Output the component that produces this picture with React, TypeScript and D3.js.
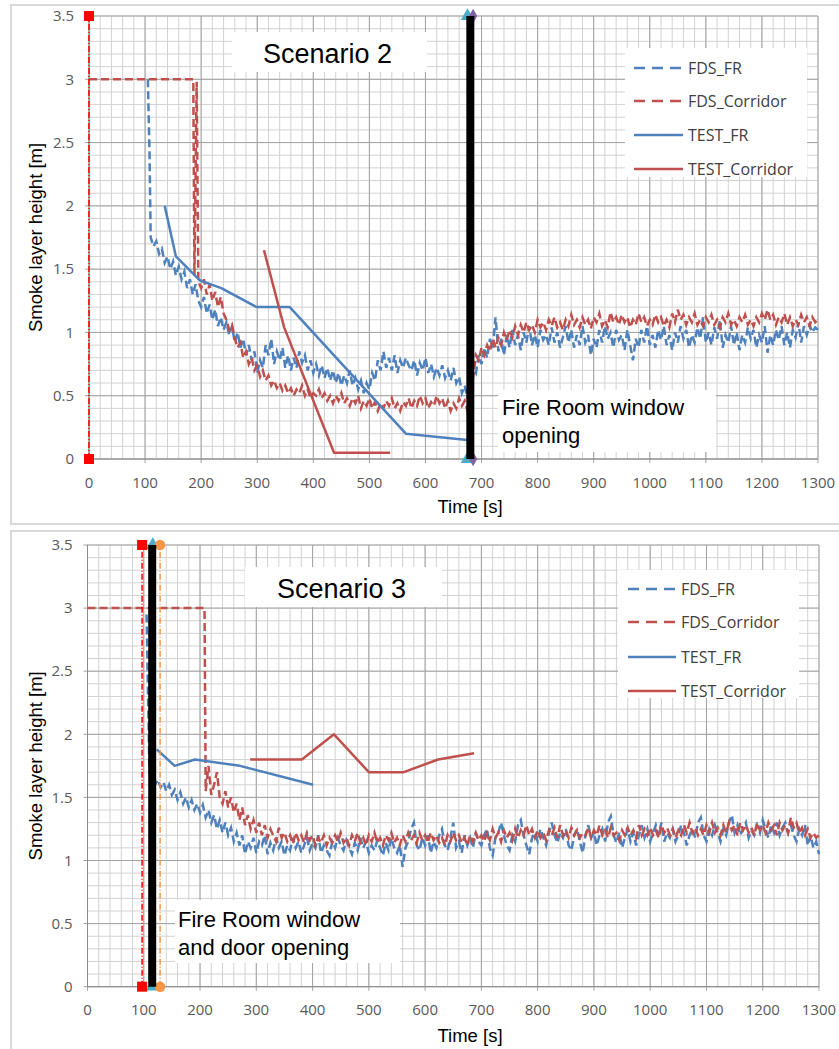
import React from 'react';
import * as d3 from 'd3';

type Pt = [number, number];

const xTickValues = [0, 100, 200, 300, 400, 500, 600, 700, 800, 900, 1000, 1100, 1200, 1300];
const yTickValues = [0, 0.5, 1, 1.5, 2, 2.5, 3, 3.5];
const seriesNames = ['FDS_FR', 'FDS_Corridor', 'TEST_FR', 'TEST_Corridor'];

// FDS output is sampled every 5 s after the initial drop
const FDS_STEP = 5;

// Scenario 2
const s2FdsFrHead: Pt[] = [[105, 3.0], [108, 2.4]];
const s2FdsFrStart = 110;
const s2FdsFrValues = [
  1.75, 1.68, 1.72, 1.62, 1.66, 1.55, 1.6, 1.5, 1.56, 1.45, 1.52, 1.42, 1.48, 1.35, 1.42, 1.3, 1.38, 1.25,
  1.2, 1.28, 1.15, 1.22, 1.1, 1.18, 1.05, 1.12, 1.02, 1.08, 0.98, 1.05, 0.92, 1.0, 0.88, 0.95, 0.82, 0.9,
  0.78, 0.85, 0.68, 0.78, 0.72, 0.9, 0.82, 0.95, 0.75, 0.85, 0.78, 0.88, 0.72, 0.82, 0.7, 0.8, 0.72, 0.85,
  0.76, 0.82, 0.7, 0.78, 0.68, 0.75, 0.66, 0.74, 0.64, 0.72, 0.62, 0.7, 0.6, 0.68, 0.58, 0.66, 0.6, 0.7,
  0.58, 0.64, 0.55, 0.62, 0.52, 0.6, 0.55, 0.68, 0.62, 0.78, 0.7, 0.85, 0.72, 0.8, 0.7, 0.82, 0.68, 0.78,
  0.72, 0.8, 0.74, 0.7, 0.78, 0.66, 0.76, 0.7, 0.8, 0.68, 0.75, 0.65, 0.72, 0.66, 0.74, 0.64, 0.7, 0.62,
  0.72, 0.6, 0.65, 0.52, 0.58, 0.48, 0.62, 0.72, 0.68, 0.82, 0.75, 0.88, 0.8, 0.95, 0.88, 1.12, 0.85, 0.95,
  0.82, 0.98, 0.88, 1.02, 0.9, 0.98, 0.86, 1.0, 0.92, 1.05, 0.9, 0.98, 0.88, 1.02, 0.94, 0.98, 0.9, 1.04,
  0.92, 1.0, 0.88, 0.96, 1.05, 0.92, 1.02, 0.88, 0.98, 0.9, 1.05, 0.92, 0.98, 0.82, 0.95, 0.88, 1.02, 0.92,
  1.05, 0.95, 1.0, 0.88, 1.02, 0.94, 0.98, 0.86, 1.02, 0.9, 0.78, 0.95, 0.88, 1.02, 0.92, 1.05, 0.9, 0.98,
  0.88, 1.02, 0.94, 1.05, 0.9, 0.98, 0.86, 1.0, 0.92, 1.05, 0.95, 1.02, 0.88, 0.98, 0.92, 1.04, 0.95, 1.12,
  0.92, 1.0, 0.9, 1.04, 0.95, 1.1, 0.88, 0.98, 0.92, 1.05, 0.9, 1.0, 0.86, 0.98, 0.92, 1.04, 0.95, 1.02,
  0.88, 0.98, 0.92, 1.05, 0.84, 0.98, 0.9, 1.02, 0.94, 1.05, 0.9, 1.0, 0.88, 1.02, 0.96, 1.08, 0.92, 1.05,
  0.98, 1.06, 1.0, 1.04, 1.02,
];
const s2FdsCorridorHead: Pt[] = [[0, 3.0], [186, 3.0], [188, 1.45], [192, 2.98], [195, 1.4]];
const s2FdsCorridorStart = 200;
const s2FdsCorridorValues = [
  1.35, 1.42, 1.3, 1.38, 1.25, 1.32, 1.2, 1.28, 1.15, 1.1, 1.02, 1.06, 0.95, 0.88, 0.92, 0.8, 0.85, 0.75,
  0.8, 0.7, 0.74, 0.65, 0.7, 0.62, 0.66, 0.58, 0.62, 0.56, 0.6, 0.54, 0.58, 0.52, 0.56, 0.5, 0.55, 0.52,
  0.58, 0.5, 0.55, 0.48, 0.52, 0.5, 0.55, 0.48, 0.52, 0.46, 0.5, 0.44, 0.5, 0.46, 0.52, 0.44, 0.48, 0.42,
  0.48, 0.44, 0.5, 0.4, 0.46, 0.42, 0.48, 0.4, 0.45, 0.38, 0.44, 0.4, 0.46, 0.42, 0.48, 0.4, 0.44, 0.38,
  0.45, 0.42, 0.48, 0.4, 0.46, 0.42, 0.5, 0.44, 0.48, 0.4, 0.45, 0.42, 0.5, 0.44, 0.48, 0.4, 0.46, 0.38,
  0.44, 0.4, 0.48, 0.42, 0.46, 0.38, 0.42, 0.65, 0.82, 0.78, 0.88, 0.82, 0.9, 0.85, 0.95, 0.88, 0.96, 0.9,
  1.0, 0.94, 1.02, 0.96, 1.05, 0.98, 1.06, 1.0, 1.08, 1.02, 1.06, 1.0, 1.1, 1.04, 1.08, 1.02, 1.1, 1.05,
  1.12, 1.04, 1.08, 1.02, 1.1, 1.05, 1.14, 1.06, 1.1, 1.04, 1.12, 1.06, 1.1, 1.03, 1.12, 1.08, 1.15, 1.05,
  1.1, 1.04, 1.16, 1.08, 1.12, 1.06, 1.14, 1.08, 1.12, 1.04, 1.1, 1.06, 1.15, 1.08, 1.12, 1.05, 1.1, 1.06,
  1.14, 1.08, 1.12, 1.05, 1.1, 1.04, 1.15, 1.08, 1.18, 1.1, 1.14, 1.06, 1.12, 1.08, 1.15, 1.06, 1.1, 1.05,
  1.12, 1.08, 1.14, 1.06, 1.1, 1.04, 1.12, 1.08, 1.15, 1.06, 1.1, 1.05, 1.12, 1.08, 1.14, 1.06, 1.1, 1.05,
  1.12, 1.08, 1.15, 1.1, 1.18, 1.1, 1.14, 1.06, 1.12, 1.08, 1.15, 1.06, 1.12, 1.05, 1.1, 1.06, 1.14, 1.08,
  1.12, 1.05, 1.12, 1.08, 1.1,
];
const s2TestFr: Pt[] = [[135, 2.0], [155, 1.6], [198, 1.41], [236, 1.35], [299, 1.2], [358, 1.2], [565, 0.2], [675, 0.15]];
const s2TestCorridor: Pt[] = [[312, 1.65], [348, 1.04], [437, 0.05], [537, 0.05]];
const s2RedMark = 0;
const s2Opening = 680;
const s2CyanMark = 675;
const s2PurpleMark = 685;

// Scenario 3
const s3FdsFrHead: Pt[] = [[105, 2.95], [108, 2.2]];
const s3FdsFrStart = 110;
const s3FdsFrValues = [
  1.7, 1.64, 1.6, 1.64, 1.58, 1.62, 1.55, 1.6, 1.52, 1.56, 1.48, 1.54, 1.45, 1.5, 1.42, 1.48, 1.4, 1.45,
  1.38, 1.44, 1.34, 1.4, 1.3, 1.36, 1.25, 1.32, 1.22, 1.3, 1.2, 1.26, 1.15, 1.22, 1.12, 1.2, 1.05, 1.15,
  1.1, 1.18, 1.06, 1.15, 1.12, 1.2, 1.05, 1.14, 1.08, 1.18, 1.1, 1.15, 1.04, 1.12, 1.08, 1.18, 1.1, 1.15,
  1.06, 1.12, 1.18, 1.08, 1.14, 1.1, 1.2, 1.06, 1.12, 1.08, 1.04, 1.15, 1.1, 1.18, 1.12, 1.08, 1.16, 1.1,
  1.05, 1.14, 1.08, 1.18, 1.1, 1.15, 1.06, 1.12, 1.08, 1.16, 1.1, 1.04, 1.14, 1.08, 1.18, 1.1, 1.06, 1.12,
  0.95, 1.1, 1.15, 1.25, 1.3, 1.12, 1.08, 1.18, 1.12, 1.2, 1.06, 1.15, 1.1, 1.2, 1.25, 1.12, 1.08, 1.18,
  1.3, 1.1, 1.15, 1.06, 1.2, 1.12, 1.18, 1.1, 1.22, 1.15, 1.12, 1.2, 1.25, 1.1, 1.04, 1.18, 1.22, 1.3,
  1.2, 1.12, 1.08, 1.2, 1.15, 1.28, 1.32, 1.2, 1.12, 1.05, 1.18, 1.22, 1.15, 1.25, 1.18, 1.12, 1.22, 1.3,
  1.2, 1.14, 1.22, 1.18, 1.25, 1.12, 1.08, 1.2, 1.25, 1.15, 1.06, 1.2, 1.28, 1.18, 1.22, 1.12, 1.2, 1.25,
  1.15, 1.3, 1.35, 1.2, 1.14, 1.22, 1.1, 1.18, 1.25, 1.15, 1.22, 1.12, 1.2, 1.28, 1.18, 1.25, 1.15, 1.22,
  1.28, 1.2, 1.3, 1.15, 1.22, 1.18, 1.25, 1.15, 1.2, 1.28, 1.22, 1.12, 1.2, 1.25, 1.18, 1.3, 1.34, 1.2,
  1.15, 1.25, 1.2, 1.28, 1.22, 1.15, 1.25, 1.2, 1.3, 1.36, 1.22, 1.28, 1.2, 1.25, 1.3, 1.18, 1.24, 1.2,
  1.28, 1.22, 1.32, 1.25, 1.18, 1.28, 1.22, 1.3, 1.2, 1.26, 1.3, 1.22, 1.28, 1.2, 1.15, 1.25, 1.2, 1.28,
  1.12, 1.2, 1.1, 1.15, 1.05,
];
const s3FdsCorridorHead: Pt[] = [[0, 3.0], [208, 3.0]];
const s3FdsCorridorStart = 210;
const s3FdsCorridorValues = [
  1.55, 1.75, 1.52, 1.6, 1.7, 1.5, 1.45, 1.55, 1.42, 1.5, 1.38, 1.45, 1.32, 1.42, 1.28, 1.36, 1.25, 1.32,
  1.22, 1.3, 1.2, 1.28, 1.18, 1.25, 1.2, 1.15, 1.26, 1.18, 1.22, 1.15, 1.2, 1.13, 1.22, 1.16, 1.2, 1.14,
  1.22, 1.16, 1.2, 1.12, 1.18, 1.14, 1.2, 1.12, 1.18, 1.14, 1.2, 1.15, 1.22, 1.14, 1.18, 1.12, 1.2, 1.15,
  1.22, 1.14, 1.18, 1.12, 1.2, 1.15, 1.22, 1.14, 1.18, 1.12, 1.2, 1.16, 1.22, 1.14, 1.18, 1.12, 1.2, 1.15,
  1.22, 1.16, 1.2, 1.14, 1.22, 1.16, 1.2, 1.14, 1.22, 1.16, 1.2, 1.14, 1.18, 1.12, 1.2, 1.15, 1.22, 1.16,
  1.2, 1.14, 1.18, 1.12, 1.2, 1.15, 1.22, 1.16, 1.2, 1.15, 1.22, 1.16, 1.25, 1.18, 1.22, 1.15, 1.24, 1.18,
  1.22, 1.16, 1.25, 1.18, 1.24, 1.2, 1.28, 1.2, 1.25, 1.18, 1.24, 1.18, 1.22, 1.16, 1.24, 1.2, 1.26, 1.18,
  1.28, 1.2, 1.24, 1.18, 1.26, 1.2, 1.24, 1.18, 1.22, 1.2, 1.26, 1.18, 1.24, 1.2, 1.28, 1.2, 1.24, 1.18,
  1.26, 1.2, 1.22, 1.16, 1.24, 1.2, 1.26, 1.2, 1.24, 1.18, 1.28, 1.2, 1.25, 1.2, 1.26, 1.2, 1.24, 1.18,
  1.28, 1.22, 1.26, 1.2, 1.25, 1.18, 1.24, 1.2, 1.28, 1.22, 1.3, 1.22, 1.26, 1.2, 1.25, 1.2, 1.28, 1.22,
  1.3, 1.22, 1.26, 1.2, 1.28, 1.22, 1.3, 1.24, 1.28, 1.2, 1.3, 1.24, 1.28, 1.22, 1.26, 1.2, 1.3, 1.24,
  1.28, 1.22, 1.3, 1.24, 1.28, 1.2, 1.3, 1.24, 1.28, 1.22, 1.34, 1.26, 1.3, 1.22, 1.26, 1.2, 1.25, 1.18,
  1.22, 1.18, 1.2,
];
const s3TestFr: Pt[] = [[123, 1.88], [155, 1.75], [191, 1.8], [271, 1.75], [401, 1.6]];
const s3TestCorridor: Pt[] = [[289, 1.8], [381, 1.8], [438, 2.0], [500, 1.7], [562, 1.7], [623, 1.8], [687, 1.85]];
const s3RedMark = 97;
const s3Opening = 115;
const s3CyanMark = 116;
const s3OrangeMark = 129;

const sampled = (head: Pt[], start: number, values: number[]): Pt[] =>
  head.concat(values.map((v, i) => [start + i * FDS_STEP, v] as Pt));

const BLUE = '#4f81bd';
const RED = '#c0504d';
const TICK_FONT = '"Open Sans", "Noto Sans", sans-serif';
const TEXT_FONT = '"Liberation Sans", Arial, sans-serif';

interface ScenarioCfg {
  frameTop: number;
  frameBottom: number;
  left: number;
  right: number;
  top: number;
  bottom: number;
  fdsFr: Pt[];
  fdsCorridor: Pt[];
  testFr: Pt[];
  testCorridor: Pt[];
  redMark: number;
  opening: number;
  cyanMark: number;
  purpleMark?: number;
  orangeMark?: number;
  title: string;
  titleBox: [number, number, number, number];
  titleX: number;
  legendBox: [number, number, number, number];
  legendRows: number[];
  legendLineX: [number, number];
  note: string[];
  noteBox: [number, number, number, number];
  noteX: number;
  noteBase: number[];
  xTitleY: number;
  xTickY: number;
}

function Scenario({ cfg }: { cfg: ScenarioCfg }) {
  const x = d3.scaleLinear().domain([0, 1300]).range([cfg.left, cfg.right]);
  const y = d3.scaleLinear().domain([0, 3.5]).range([cfg.bottom, cfg.top]);
  const line = d3.line<Pt>().x(d => x(d[0])).y(d => y(d[1]));
  const minorX = d3.range(0, 1301, 20);
  const minorY = d3.range(0, 36).map(i => i / 10);
  const tri = d3.symbol(d3.symbolTriangle, 80)();
  const dia = d3.symbol(d3.symbolDiamond, 60)();
  const sq = d3.symbol(d3.symbolSquare, 100)();
  const circ = d3.symbol(d3.symbolCircle, 85)();
  const lineColors = [BLUE, RED, BLUE, RED];
  const [lx0, lx1] = cfg.legendLineX;

  return (
    <g>
      <rect x={11} y={cfg.frameTop} width={840} height={cfg.frameBottom - cfg.frameTop}
        fill="#fff" stroke="#d9d9d9" strokeWidth={2} />
      {minorX.map(v => (
        <line key={'mx' + v} x1={x(v)} x2={x(v)} y1={y(0)} y2={y(3.5)} stroke="#d2d2d2" strokeWidth={1} />
      ))}
      {minorY.map(v => (
        <line key={'my' + v} x1={x(0)} x2={x(1300)} y1={y(v)} y2={y(v)} stroke="#d2d2d2" strokeWidth={1} />
      ))}
      {xTickValues.map(v => (
        <line key={'gx' + v} x1={x(v)} x2={x(v)} y1={y(0) + 4} y2={y(3.5)} stroke="#a3a3a3" strokeWidth={1} />
      ))}
      {yTickValues.map(v => (
        <line key={'gy' + v} x1={x(0) - 4} x2={x(1300)} y1={y(v)} y2={y(v)} stroke="#a3a3a3" strokeWidth={1} />
      ))}
      <line x1={x(0)} x2={x(1300)} y1={y(0)} y2={y(0)} stroke="#8c8c8c" />
      <line x1={x(0)} x2={x(0)} y1={y(0)} y2={y(3.5)} stroke="#8c8c8c" />

      {xTickValues.map(v => (
        <text key={'tx' + v} x={x(v)} y={cfg.xTickY} textAnchor="middle" fontFamily={TICK_FONT}
          fontSize={15} fill="#595959">{v}</text>
      ))}
      {yTickValues.map(v => (
        <text key={'ty' + v} x={x(0) - 15} y={y(v)} dy="0.35em" textAnchor="end" fontFamily={TICK_FONT}
          fontSize={15} fill="#595959">{v}</text>
      ))}
      <text transform={`translate(42,${(cfg.top + cfg.bottom) / 2}) rotate(-90)`} textAnchor="middle"
        fontFamily={TEXT_FONT} fontSize={18.5} fill="#000">Smoke layer height [m]</text>
      <text x={470} y={cfg.xTitleY} textAnchor="middle" fontFamily={TEXT_FONT} fontSize={18.5} fill="#000">Time [s]</text>

      <path d={line(cfg.fdsFr) || ''} fill="none" stroke={BLUE} strokeWidth={2.5} strokeDasharray="8,4" />
      <path d={line(cfg.fdsCorridor) || ''} fill="none" stroke={RED} strokeWidth={2.5} strokeDasharray="8,4" />
      <path d={line(cfg.testFr) || ''} fill="none" stroke={BLUE} strokeWidth={2.5} strokeLinejoin="round" />
      <path d={line(cfg.testCorridor) || ''} fill="none" stroke={RED} strokeWidth={2.5} strokeLinejoin="round" />

      <line x1={x(cfg.redMark)} x2={x(cfg.redMark)} y1={y(0)} y2={y(3.5)} stroke="#ff0000" strokeWidth={1.5}
        strokeDasharray="6,2,1,2" />
      {cfg.orangeMark !== undefined && (
        <line x1={x(cfg.orangeMark)} x2={x(cfg.orangeMark)} y1={y(0)} y2={y(3.5)} stroke="#f79646"
          strokeWidth={1.5} strokeDasharray="6,2,1,2" />
      )}
      {[0, 3.5].map(v => (
        <g key={'mk' + v}>
          <path d={tri || ''} transform={`translate(${x(cfg.cyanMark)},${y(v)})`} fill="#4bacc6" />
          {cfg.purpleMark !== undefined && (
            <path d={dia || ''} transform={`translate(${x(cfg.purpleMark)},${y(v)})`} fill="#8064a2" />
          )}
          {cfg.orangeMark !== undefined && (
            <path d={circ || ''} transform={`translate(${x(cfg.orangeMark)},${y(v)})`} fill="#f79646" />
          )}
          <path d={sq || ''} transform={`translate(${x(cfg.redMark)},${y(v)})`} fill="#ff0000" />
        </g>
      ))}
      <line x1={x(cfg.opening)} x2={x(cfg.opening)} y1={y(0)} y2={y(3.5)} stroke="#000" strokeWidth={8} />

      <rect x={cfg.titleBox[0]} y={cfg.titleBox[1]} width={cfg.titleBox[2]} height={cfg.titleBox[3]} fill="#fff" />
      <text x={cfg.titleX} y={cfg.titleBox[1] + 31} fontFamily={TEXT_FONT} fontSize={27} fill="#000">{cfg.title}</text>

      <rect x={cfg.legendBox[0]} y={cfg.legendBox[1]} width={cfg.legendBox[2]} height={cfg.legendBox[3]} fill="#fff" />
      {seriesNames.map((name, i) => (
        <g key={name}>
          <line x1={lx0} x2={lx1} y1={cfg.legendRows[i]} y2={cfg.legendRows[i]} stroke={lineColors[i]}
            strokeWidth={2.5} strokeDasharray={i < 2 ? '11,7' : undefined} />
          <text x={lx1 + 5} y={cfg.legendRows[i]} dy="0.35em" fontFamily={TICK_FONT} fontSize={16}
            fill="#404040">{name}</text>
        </g>
      ))}

      <rect x={cfg.noteBox[0]} y={cfg.noteBox[1]} width={cfg.noteBox[2]} height={cfg.noteBox[3]} fill="#fff" />
      {cfg.note.map((t, i) => (
        <text key={t} x={cfg.noteX} y={cfg.noteBase[i]} fontFamily={TEXT_FONT} fontSize={22} fill="#000">{t}</text>
      ))}
    </g>
  );
}

const scenario2: ScenarioCfg = {
  frameTop: 5, frameBottom: 524,
  left: 89, right: 818, top: 16, bottom: 459,
  fdsFr: sampled(s2FdsFrHead, s2FdsFrStart, s2FdsFrValues),
  fdsCorridor: sampled(s2FdsCorridorHead, s2FdsCorridorStart, s2FdsCorridorValues),
  testFr: s2TestFr, testCorridor: s2TestCorridor,
  redMark: s2RedMark, opening: s2Opening, cyanMark: s2CyanMark, purpleMark: s2PurpleMark,
  title: 'Scenario 2', titleBox: [232, 32, 195, 40], titleX: 263,
  legendBox: [625, 48, 182, 129], legendRows: [68, 101, 135, 169], legendLineX: [634, 683],
  note: ['Fire Room window', 'opening'], noteBox: [498, 390, 218, 62], noteX: 502, noteBase: [415, 443],
  xTitleY: 513, xTickY: 488,
};

const scenario3: ScenarioCfg = {
  frameTop: 531, frameBottom: 1060,
  left: 87.5, right: 819, top: 545, bottom: 986.7,
  fdsFr: sampled(s3FdsFrHead, s3FdsFrStart, s3FdsFrValues),
  fdsCorridor: sampled(s3FdsCorridorHead, s3FdsCorridorStart, s3FdsCorridorValues),
  testFr: s3TestFr, testCorridor: s3TestCorridor,
  redMark: s3RedMark, opening: s3Opening, cyanMark: s3CyanMark, orangeMark: s3OrangeMark,
  title: 'Scenario 3', titleBox: [245, 567, 197, 40], titleX: 277,
  legendBox: [618, 570, 181, 128], legendRows: [589, 622, 657, 691], legendLineX: [628, 676],
  note: ['Fire Room window', 'and door opening'], noteBox: [175, 900, 225, 63], noteX: 178, noteBase: [927, 955],
  xTitleY: 1042, xTickY: 1015,
};

export default function App() {
  return (
    <svg width={839} height={1049} style={{ position: 'absolute', left: 0, top: 0, background: '#fff' }}>
      <Scenario cfg={scenario2} />
      <Scenario cfg={scenario3} />
    </svg>
  );
}
